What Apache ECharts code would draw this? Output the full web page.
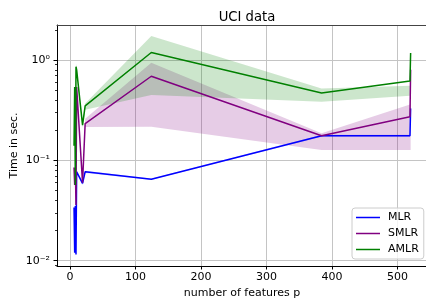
<!DOCTYPE html>
<html>
<head>
<meta charset="utf-8">
<script src="https://cdn.jsdelivr.net/npm/echarts@6/dist/echarts.min.js"></script>
<style>
  html, body { margin: 0; padding: 0; background: #fff; }
  #chart { width: 426px; height: 302px; }
</style>
</head>
<body>
<div id="chart"></div>
<script>
// number of features p, one entry per data set
const features = [6, 7, 8, 9, 10, 19, 23, 124, 384, 519, 520];

// time in seconds
const mlr  = [0.034, 0.012, 0.035, 0.0115, 0.077, 0.059, 0.077, 0.065, 0.176, 0.176, 0.33];
const smlr = [0.085, 0.057, 0.085, 0.036, 0.54, 0.06, 0.233, 0.69, 0.176, 0.272, 0.8];
const amlr = [0.14, 0.54, 0.057, 0.86, 0.8, 0.225, 0.35, 1.19, 0.47, 0.62, 1.18];

// shaded spread (lower / upper)
const mlrLow  = [0.030, 0.0105, 0.031, 0.0105, 0.074, 0.057, 0.075, 0.064, 0.172, 0.172, 0.30];
const mlrHigh = [0.037, 0.013, 0.038, 0.013, 0.080, 0.061, 0.079, 0.066, 0.180, 0.180, 0.35];
const smlrLow  = [0.080, 0.054, 0.080, 0.034, 0.50, 0.058, 0.215, 0.216, 0.127, 0.127, 0.127];
const smlrHigh = [0.090, 0.060, 0.090, 0.038, 0.58, 0.062, 0.26, 0.94, 0.187, 0.36, 0.38];
const amlrLow  = [0.13, 0.50, 0.054, 0.80, 0.75, 0.21, 0.32, 0.45, 0.384, 0.44, 0.44];
const amlrHigh = [0.15, 0.58, 0.060, 0.92, 0.85, 0.24, 0.37, 1.74, 0.52, 0.555, 0.555];

const xTicks = [0, 100, 200, 300, 400, 500];
const yTicks = [-2, -1, 0];
const yTickLabels = ['10⁻²', '10⁻¹', '10⁰'];

const yMin = -2.053, yMax = 0.35;
const font = 'DejaVu Sans';

// minor log ticks 2..9 x 10^n
const minorTicks = [];
for (let n = -3; n <= 0; n++) {
  for (let k = 2; k <= 9; k++) {
    const v = Math.log10(k) + n;
    if (v > yMin && v < yMax) minorTicks.push(v);
  }
}

const pts = (vals) => vals.map((v, i) => [features[i], Math.log10(v)]);

// fill between lower and upper, as one polygon
function band(name, lo, hi, fill) {
  return {
    name: name + ' band', type: 'custom', data: [[features[0], Math.log10(lo[0])]],
    silent: true, clip: true, z: 1,
    renderItem: (params, api) => {
      const top = hi.map((v, i) => api.coord([features[i], Math.log10(v)]));
      const bot = lo.map((v, i) => api.coord([features[i], Math.log10(v)])).reverse();
      return { type: 'polygon', shape: { points: top.concat(bot) }, style: { fill: fill, stroke: null } };
    }
  };
}

function line(name, vals, color) {
  return {
    name: name, type: 'line', data: pts(vals), symbol: 'none', z: 3,
    lineStyle: { color: color, width: 1.5 }, itemStyle: { color: color }
  };
}

const chart = echarts.init(document.getElementById('chart'));
chart.setOption({
  animation: false,
  title: {
    text: 'UCI data', left: 242, top: 6, textAlign: 'center',
    textStyle: { fontFamily: font, fontSize: 13.2, fontWeight: 'normal', color: '#000' }
  },
  legend: {
    data: ['MLR', 'SMLR', 'AMLR'],
    orient: 'vertical', left: 352, top: 208,
    icon: 'path://M0,0H48V3H0Z',
    padding: [4, 5, 4, 4], itemGap: 5, itemWidth: 24, itemHeight: 11,
    backgroundColor: 'rgba(255,255,255,0.8)', borderColor: '#cccccc', borderWidth: 1, borderRadius: 3,
    textStyle: { fontFamily: font, fontSize: 11, color: '#000', padding: [0, 0, 0, 3] }
  },
  grid: { left: 57, top: 25, width: 370, height: 241, outerBoundsMode: 'none', containLabel: false },
  xAxis: [
    {
      type: 'value', min: -20, max: 545,
      name: 'number of features p', nameLocation: 'middle', nameGap: 22, nameMoveOverlap: false,
      nameTextStyle: { fontFamily: font, fontSize: 11, color: '#000' },
      axisLine: { show: true, onZero: false, lineStyle: { color: '#000', width: 1 } },
      axisTick: { show: true, length: 3.5, customValues: xTicks, lineStyle: { color: '#000' } },
      axisLabel: { customValues: xTicks, margin: 6, fontFamily: font, fontSize: 11, color: '#000' },
      splitLine: { show: true, lineStyle: { color: '#c4c4c4', width: 1 } }
    },
    {
      type: 'value', min: -20, max: 545, position: 'top',
      axisLine: { show: true, onZero: false, lineStyle: { color: '#444', width: 1 } },
      axisTick: { show: false }, axisLabel: { show: false }, splitLine: { show: false }
    }
  ],
  yAxis: [
    {
      type: 'value', min: yMin, max: yMax,
      name: 'Time in sec.', nameLocation: 'middle', nameGap: 37, nameMoveOverlap: false,
      nameTextStyle: { fontFamily: font, fontSize: 11, color: '#000' },
      axisLine: { show: true, onZero: false, lineStyle: { color: '#000', width: 1 } },
      axisTick: { show: true, length: 3.5, customValues: yTicks, lineStyle: { color: '#000' } },
      axisLabel: {
        customValues: yTicks, margin: 7, fontFamily: font, fontSize: 11, color: '#000',
        formatter: (v) => yTickLabels[yTicks.indexOf(Math.round(v))]
      },
      splitLine: { show: true, lineStyle: { color: '#c4c4c4', width: 1 } }
    },
    {
      type: 'value', min: yMin, max: yMax, position: 'left', offset: 0,
      axisLine: { show: false, onZero: false },
      axisTick: { show: true, length: 2, customValues: minorTicks, lineStyle: { color: '#000', width: 0.8 } },
      axisLabel: { show: false }, splitLine: { show: false }
    }
  ],
  series: [
    band('MLR', mlrLow, mlrHigh, 'rgba(0,0,255,0.2)'),
    band('SMLR', smlrLow, smlrHigh, 'rgba(128,0,128,0.2)'),
    band('AMLR', amlrLow, amlrHigh, 'rgba(0,128,0,0.2)'),
    line('MLR', mlr, '#0000ff'),
    line('SMLR', smlr, '#800080'),
    line('AMLR', amlr, '#008000')
  ]
});
</script>
</body>
</html>
